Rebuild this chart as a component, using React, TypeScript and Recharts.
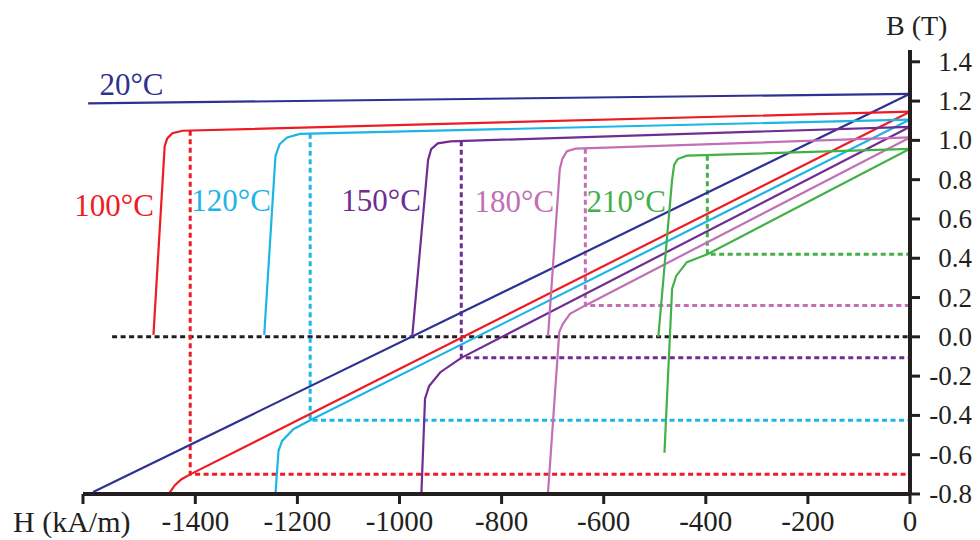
import React from 'react';
import { LineChart, Line, XAxis, YAxis, ReferenceDot } from 'recharts';

// demagnetization curves, H in kA/m, B in T
// j = intrinsic curve, b = normal curve, d = dotted knee guide
const j20 = [{ h: 0, b: 1.237 }, { h: -1610, b: 1.188 }];
const b20 = [{ h: 0, b: 1.237 }, { h: -1600, b: -0.79 }];

const j100 = [{ h: 0, b: 1.146 }, { h: -1425, b: 1.049 }, { h: -1445, b: 1.036 }, { h: -1455, b: 1.01 }, { h: -1460, b: 0.97 }, { h: -1482, b: 0.01 }];
const b100 = [{ h: 0, b: 1.146 }, { h: -1410, b: -0.70 }, { h: -1427, b: -0.725 }, { h: -1440, b: -0.755 }, { h: -1451, b: -0.795 }];
const d100 = [{ h: -1410, b: 1.049 }, { h: -1410, b: -0.70 }, { h: 0, b: -0.70 }];

const j120 = [{ h: 0, b: 1.106 }, { h: -1195, b: 1.033 }, { h: -1220, b: 1.015 }, { h: -1235, b: 0.98 }, { h: -1243, b: 0.92 }, { h: -1265, b: 0.01 }];
const b120 = [{ h: 0, b: 1.106 }, { h: -1175, b: -0.425 }, { h: -1208, b: -0.47 }, { h: -1230, b: -0.53 }, { h: -1237, b: -0.58 }, { h: -1243, b: -0.80 }];
const d120 = [{ h: -1175, b: 1.034 }, { h: -1175, b: -0.425 }, { h: 0, b: -0.425 }];

const j150 = [{ h: 0, b: 1.069 }, { h: -900, b: 0.995 }, { h: -925, b: 0.985 }, { h: -938, b: 0.955 }, { h: -944, b: 0.90 }, { h: -975, b: 0.005 }];
const b150 = [{ h: 0, b: 1.069 }, { h: -879, b: -0.107 }, { h: -920, b: -0.18 }, { h: -942, b: -0.25 }, { h: -950, b: -0.315 }, { h: -957, b: -0.79 }];
const d150 = [{ h: -879, b: 0.995 }, { h: -879, b: -0.107 }, { h: 0, b: -0.107 }];

const j180 = [{ h: 0, b: 1.015 }, { h: -655, b: 0.958 }, { h: -672, b: 0.945 }, { h: -681, b: 0.905 }, { h: -686, b: 0.855 }, { h: -709, b: 0.005 }];
const b180 = [{ h: 0, b: 1.015 }, { h: -636, b: 0.16 }, { h: -666, b: 0.117 }, { h: -680, b: 0.066 }, { h: -687, b: 0.025 }, { h: -709, b: -0.79 }];
const d180 = [{ h: -636, b: 0.957 }, { h: -636, b: 0.16 }, { h: 0, b: 0.16 }];

const j210 = [{ h: 0, b: 0.957 }, { h: -437, b: 0.922 }, { h: -455, b: 0.905 }, { h: -462, b: 0.875 }, { h: -466, b: 0.80 }, { h: -493, b: 0.0 }];
const b210 = [{ h: 0, b: 0.957 }, { h: -397, b: 0.42 }, { h: -437, b: 0.38 }, { h: -458, b: 0.31 }, { h: -466, b: 0.245 }, { h: -481, b: -0.59 }];
const d210 = [{ h: -397, b: 0.922 }, { h: -397, b: 0.42 }, { h: 0, b: 0.42 }];

const zeroLine = [{ h: -1563, b: 0 }, { h: 0, b: 0 }];

const xTicks = [-1620, -1400, -1200, -1000, -800, -600, -400, -200, 0];
const yTicks = [-0.8, -0.6, -0.4, -0.2, 0, 0.2, 0.4, 0.6, 0.8, 1.0, 1.2, 1.4];

const tempLabels = [
  { text: '20°C', h: -1525, b: 1.288, color: '#2e3192' },
  { text: '100°C', h: -1559, b: 0.672, color: '#ed1c24' },
  { text: '120°C', h: -1330, b: 0.698, color: '#1cb5e6' },
  { text: '150°C', h: -1036, b: 0.698, color: '#6f2d91' },
  { text: '180°C', h: -775, b: 0.692, color: '#c26fb5' },
  { text: '210°C', h: -556, b: 0.692, color: '#43b049' },
];

const NAVY = '#2e3192';
const RED = '#ed1c24';
const CYAN = '#1cb5e6';
const PURPLE = '#6f2d91';
const PINK = '#c26fb5';
const GREEN = '#43b049';
const INK = '#231f20';
const FONT = "'Liberation Serif', 'Times New Roman', serif";

const series = [
  { id: 'zero', data: zeroLine, color: INK, dotted: true },
  { id: 'd100', data: d100, color: RED, dotted: true },
  { id: 'd120', data: d120, color: CYAN, dotted: true },
  { id: 'd150', data: d150, color: PURPLE, dotted: true },
  { id: 'd180', data: d180, color: PINK, dotted: true },
  { id: 'd210', data: d210, color: GREEN, dotted: true },
  { id: 'j20', data: j20, color: NAVY },
  { id: 'b20', data: b20, color: NAVY },
  { id: 'j100', data: j100, color: RED },
  { id: 'b100', data: b100, color: RED },
  { id: 'j120', data: j120, color: CYAN },
  { id: 'b120', data: b120, color: CYAN },
  { id: 'j150', data: j150, color: PURPLE },
  { id: 'b150', data: b150, color: PURPLE },
  { id: 'j180', data: j180, color: PINK },
  { id: 'b180', data: b180, color: PINK },
  { id: 'j210', data: j210, color: GREEN },
  { id: 'b210', data: b210, color: GREEN },
];

const XTick = (props: any) => {
  const { x, y, payload } = props;
  if (payload.value === -1620) return null;
  return (
    <text x={x} y={y + 25} textAnchor="middle" fill={INK} fontSize={29} fontFamily={FONT}>
      {payload.value}
    </text>
  );
};

const YTick = (props: any) => {
  const { x, y, payload } = props;
  return (
    <text x={x + 50} y={y + 9} textAnchor="end" fill={INK} fontSize={27} fontFamily={FONT}>
      {Number(payload.value).toFixed(1)}
    </text>
  );
};

export default function App() {
  return (
    <div style={{ position: 'absolute', left: 0, top: 0, width: 980, height: 540, background: '#fff' }}>
      <LineChart width={980} height={540} margin={{ top: 50, right: 0, bottom: 0, left: 83 }}>
        <XAxis
          type="number"
          dataKey="h"
          domain={[-1620, 0]}
          allowDataOverflow
          ticks={xTicks}
          interval={0}
          height={46}
          tickSize={10}
          axisLine={{ stroke: INK, strokeWidth: 4 }}
          tickLine={{ stroke: INK, strokeWidth: 3 }}
          tick={<XTick />}
        />
        <YAxis
          type="number"
          dataKey="b"
          orientation="right"
          domain={[-0.8, 1.46]}
          allowDataOverflow
          ticks={yTicks}
          interval={0}
          width={70}
          tickSize={10}
          axisLine={{ stroke: INK, strokeWidth: 4 }}
          tickLine={{ stroke: INK, strokeWidth: 3 }}
          tick={<YTick />}
        />
        {series.map((s) => (
          <Line
            key={s.id}
            data={s.data}
            dataKey="b"
            type="linear"
            stroke={s.color}
            strokeWidth={s.dotted ? 3 : 2.2}
            strokeDasharray={s.dotted ? '5 3.5' : undefined}
            dot={false}
            activeDot={false}
            isAnimationActive={false}
          />
        ))}
        {tempLabels.map((t) => (
          <ReferenceDot
            key={t.text}
            x={t.h}
            y={t.b}
            r={0}
            stroke="none"
            fill="none"
            label={{ value: t.text, position: 'center', fill: t.color, fontSize: 31, fontFamily: FONT }}
          />
        ))}
      </LineChart>
      <div style={{ position: 'absolute', left: 886, top: 12, fontFamily: FONT, fontSize: 28, color: INK, lineHeight: 1 }}>
        B (T)
      </div>
      <div style={{ position: 'absolute', left: 13, top: 507, fontFamily: FONT, fontSize: 30, color: INK, lineHeight: 1 }}>
        H (kA/m)
      </div>
    </div>
  );
}
